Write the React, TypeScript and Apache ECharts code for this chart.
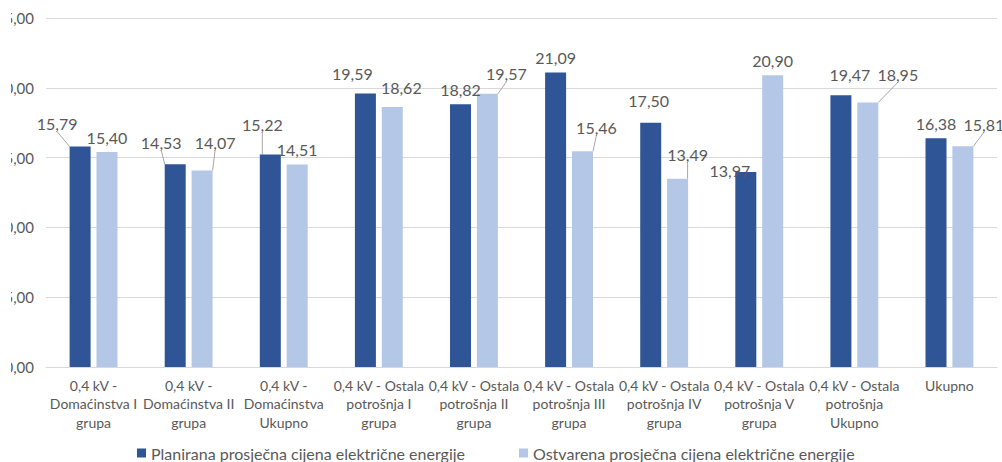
import React, { useEffect, useRef } from "react";
import * as echarts from "echarts";

const categories = [
  "0,4 kV -\nDomaćinstva I\ngrupa",
  "0,4 kV -\nDomaćinstva II\ngrupa",
  "0,4 kV -\nDomaćinstva\nUkupno",
  "0,4 kV - Ostala\npotrošnja I\ngrupa",
  "0,4 kV - Ostala\npotrošnja II\ngrupa",
  "0,4 kV - Ostala\npotrošnja III\ngrupa",
  "0,4 kV - Ostala\npotrošnja IV\ngrupa",
  "0,4 kV - Ostala\npotrošnja V\ngrupa",
  "0,4 kV - Ostala\npotrošnja\nUkupno",
  "Ukupno",
];

const seriesNames = [
  "Planirana prosječna cijena električne energije",
  "Ostvarena prosječna cijena električne energije",
];

const planned = [15.79, 14.53, 15.22, 19.59, 18.82, 21.09, 17.5, 13.97, 19.47, 16.38];
const actual = [15.4, 14.07, 14.51, 18.62, 19.57, 15.46, 13.49, 20.9, 18.95, 15.81];

const yTicks = { min: 0, max: 25, interval: 5 };

// label displacement (style) relative to default top position, and whether a leader line is drawn
const labelShift = [
  [[-23, -8], [-14, -7], [-8, -15], [-13, -5], [0, 0], [0, 0], [-2, -7], [-16, 14], [9, -6], [0, 0]],
  [[0, 0], [13, -13], [0, 0], [9, -5], [19, -5], [14, -9], [10, -9], [0, 0], [30, -13], [21, -7]],
];
const leader = [
  [true, true, true, false, false, false, false, false, false, false],
  [false, true, false, false, true, true, true, false, true, true],
];

const colors = ["#2F5597", "#B4C7E7"];
const textColor = "#595959";
const FONT = "Lato, 'Open Sans', sans-serif";

const fmt = (v: number) => v.toFixed(2).replace(".", ",");

export default function App() {
  const ref = useRef<HTMLDivElement>(null);
  useEffect(() => {
    if (!ref.current) return;
    const chart = echarts.init(ref.current, undefined, { renderer: "svg" });
    const mk = (vals: number[], si: number) =>
      vals.map((v, i) => ({
        value: v,
        labelLine: { show: leader[si][i] },
      }));
    chart.setOption({
      animation: false,
      textStyle: { fontFamily: FONT },
      grid: { left: 35, right: 5, top: 18, bottom: 95, containLabel: false, outerBoundsMode: "none" },
      legend: {
        top: 440,
        left: 121,
        itemWidth: 9,
        itemHeight: 9,
        itemGap: 54,
        icon: "rect",
        textStyle: { color: textColor, fontSize: 16, fontFamily: FONT },
        data: seriesNames,
      },
      xAxis: {
        type: "category",
        data: categories,
        axisLine: { show: true, lineStyle: { color: "#D9D9D9", width: 1 } },
        axisTick: { show: false },
        axisLabel: {
          color: textColor,
          fontSize: 14,
          lineHeight: 18.5,
          margin: 9,
          interval: 0,
          fontFamily: FONT,
        },
      },
      yAxis: {
        type: "value",
        min: yTicks.min,
        max: yTicks.max,
        interval: yTicks.interval,
        axisLine: { show: false },
        axisTick: { show: false },
        splitLine: { lineStyle: { color: "#D9D9D9", width: 1 } },
        axisLabel: {
          color: textColor,
          fontSize: 15,
          margin: 12,
          fontFamily: FONT,
          formatter: (v: number) => fmt(v),
        },
      },
      series: [planned, actual].map((vals, si) => ({
        name: seriesNames[si],
        type: "bar",
        data: mk(vals, si),
        barWidth: 21,
        barGap: "28%",
        itemStyle: { color: colors[si] },
        label: {
          show: true,
          position: "top",
          distance: 7,
          color: textColor,
          fontSize: 16,
          fontFamily: FONT,
          formatter: (p: any) => fmt(p.value),
        },
        labelLine: {
          show: false,
          lineStyle: { color: "#A6A6A6", width: 1 },
        },
        labelLayout: (p: any) => {
          const s = labelShift[p.seriesIndex][p.dataIndex];
          return { dx: s[0], dy: s[1] };
        },
      })),
    });
    return () => chart.dispose();
  }, []);
  return (
    <div
      style={{
        position: "absolute",
        left: 0,
        top: 0,
        width: 1002,
        height: 462,
        overflow: "hidden",
        background: "#fff",
      }}
    >
      <div
        ref={ref}
        style={{ position: "absolute", left: 11, top: 0, width: 991, height: 462, overflow: "hidden" }}
      />
    </div>
  );
}
